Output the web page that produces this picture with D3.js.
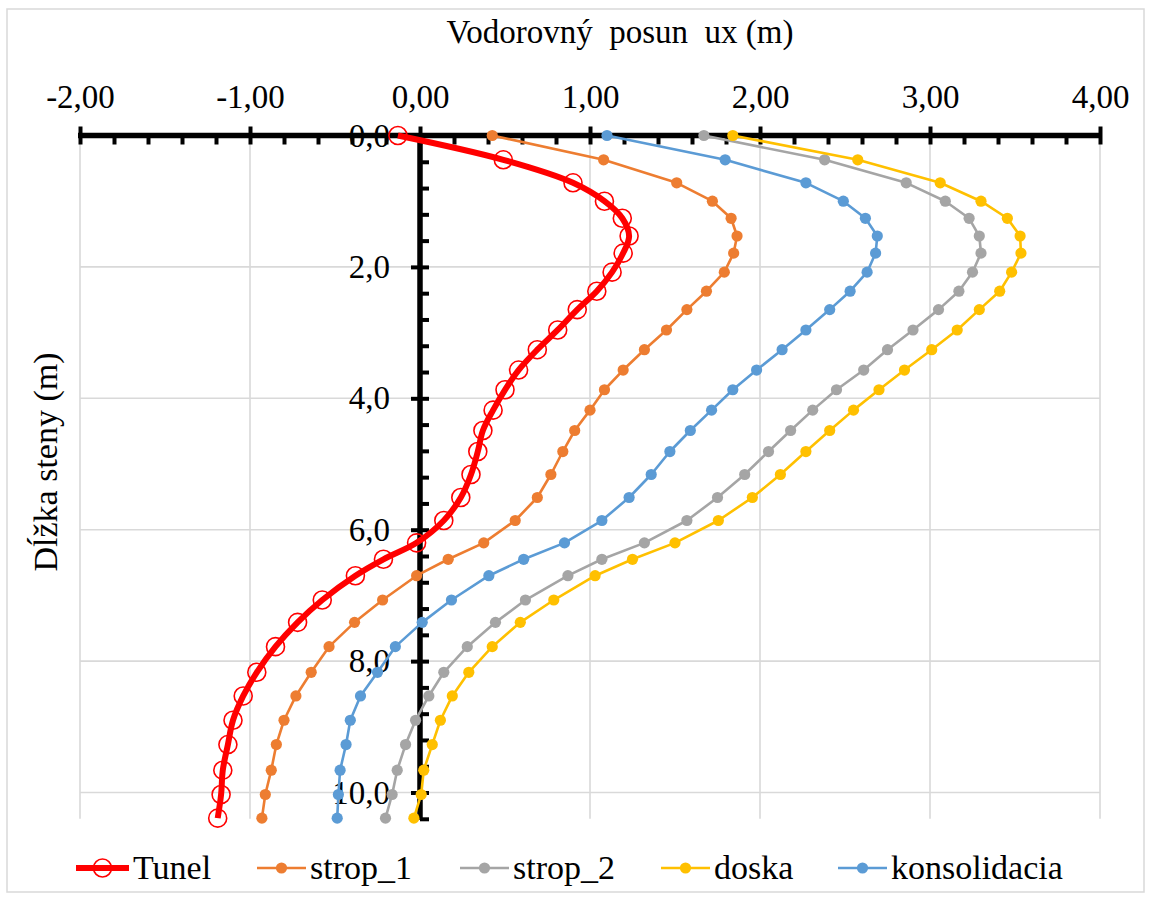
<!DOCTYPE html>
<html><head><meta charset="utf-8">
<script src="https://cdn.jsdelivr.net/npm/d3@7"></script>
<style>body{margin:0;background:#fff}</style>
</head><body><svg id="c" width="1151" height="899"></svg>
<script>
// ---- data ----
const depth = [0, 0.37, 0.72, 1.0, 1.26, 1.53, 1.79, 2.08, 2.37, 2.65, 2.96, 3.26, 3.57, 3.87, 4.18, 4.49, 4.81, 5.16, 5.51, 5.86, 6.2, 6.45, 6.7, 7.07, 7.41, 7.78, 8.17, 8.53, 8.9, 9.27, 9.66, 10.03, 10.39];
const tunel = [-0.13, 0.49, 0.90, 1.085, 1.19, 1.23, 1.195, 1.13, 1.04, 0.925, 0.81, 0.69, 0.58, 0.50, 0.43, 0.37, 0.34, 0.30, 0.24, 0.14, -0.02, -0.215, -0.38, -0.575, -0.72, -0.85, -0.96, -1.04, -1.10, -1.13, -1.16, -1.17, -1.19];
const strop1 = [0.425, 1.08, 1.51, 1.72, 1.83, 1.865, 1.845, 1.79, 1.685, 1.57, 1.45, 1.32, 1.195, 1.085, 1.00, 0.91, 0.84, 0.77, 0.69, 0.56, 0.375, 0.166, -0.02, -0.22, -0.385, -0.535, -0.64, -0.73, -0.80, -0.845, -0.875, -0.91, -0.93];
const strop2 = [1.67, 2.38, 2.86, 3.09, 3.23, 3.29, 3.30, 3.25, 3.17, 3.05, 2.90, 2.75, 2.61, 2.45, 2.31, 2.18, 2.05, 1.91, 1.75, 1.57, 1.32, 1.07, 0.87, 0.62, 0.444, 0.278, 0.14, 0.052, -0.026, -0.085, -0.134, -0.164, -0.203];
const doska = [1.84, 2.575, 3.06, 3.30, 3.455, 3.53, 3.535, 3.48, 3.41, 3.29, 3.16, 3.01, 2.85, 2.70, 2.55, 2.41, 2.27, 2.12, 1.955, 1.755, 1.50, 1.25, 1.03, 0.787, 0.59, 0.425, 0.287, 0.19, 0.12, 0.072, 0.022, 0.007, -0.036];
const konsolidacia = [1.10, 1.795, 2.27, 2.49, 2.62, 2.69, 2.68, 2.63, 2.53, 2.41, 2.27, 2.13, 1.98, 1.84, 1.715, 1.59, 1.47, 1.36, 1.23, 1.07, 0.85, 0.61, 0.405, 0.185, 0.013, -0.145, -0.25, -0.35, -0.41, -0.435, -0.47, -0.48, -0.487];
const seriesNames = ["Tunel", "strop_1", "strop_2", "doska", "konsolidacia"];
const seriesValues = [tunel, strop1, strop2, doska, konsolidacia];
const seriesColors = ["#FF0000", "#ED7D31", "#A5A5A5", "#FFC000", "#5B9BD5"];
const xTicks = [-2, -1, 0, 1, 2, 3, 4];
const yTicks = [0, 2, 4, 6, 8, 10];
const xTitle = "Vodorovný  posun  ux (m)";
const yTitle = "Dĺžka steny (m)";

// ---- setup ----
const FONT = "'Liberation Serif','Times New Roman',serif";
const FS = 33;
const svg = d3.select("#c");
const loc = d3.formatLocale({decimal: ",", thousands: " ", grouping: [3], currency: ["", ""], minus: "-"});
const fx = loc.format(".2f"), fy = loc.format(".1f");

const x = d3.scaleLinear().domain([-2, 4]).range([80, 1100]);
const y = d3.scaleLinear().domain([0, 10.4]).range([135.5, 818.8]);

svg.append("rect").attr("x", 7).attr("y", 9).attr("width", 1137).attr("height", 883)
  .attr("fill", "#fff").attr("stroke", "#d9d9d9").attr("stroke-width", 1.5);

// gridlines
const grid = svg.append("g").attr("stroke", "#d9d9d9").attr("stroke-width", 1.6);
grid.selectAll("line.v").data(xTicks.filter(d => d !== 0)).join("line")
  .attr("x1", d => x(d)).attr("x2", d => x(d)).attr("y1", y(0)).attr("y2", y(10.4));
grid.selectAll("line.h").data(yTicks.filter(d => d !== 0)).join("line").attr("class", "h")
  .attr("x1", x(-2)).attr("x2", x(4)).attr("y1", d => y(d)).attr("y2", d => y(d));

// x axis (top, at depth 0)
const xMinor = d3.range(-2, 4.0001, 0.2).map(v => +v.toFixed(2)).filter(v => Math.abs(v - Math.round(v)) > 1e-6);
const axX = svg.append("g").attr("transform", `translate(0,${y(0)})`);
axX.append("g").call(d3.axisBottom(x).tickValues(xMinor).tickSize(9).tickFormat("").tickSizeOuter(0));
axX.append("g").attr("transform", "translate(0,-9)")
  .call(d3.axisBottom(x).tickValues(xTicks).tickSize(18).tickFormat("").tickSizeOuter(0));
axX.append("g").call(d3.axisTop(x).tickValues(xTicks).tickSize(0).tickPadding(28).tickFormat(fx).tickSizeOuter(0));
axX.selectAll("path.domain").remove();
axX.selectAll("line").attr("stroke", "#000").attr("stroke-width", 4);
axX.append("line").attr("x1", x(-2) - 2).attr("x2", x(4) + 2).attr("y1", 0).attr("y2", 0)
  .attr("stroke", "#000").attr("stroke-width", 5.5);

// y axis (at ux = 0)
const yMinor = d3.range(0, 10.4001, 0.4).map(v => +v.toFixed(2)).filter(v => Math.abs(v / 2 - Math.round(v / 2)) > 1e-6);
const axY = svg.append("g").attr("transform", `translate(${x(0)},0)`);
axY.append("g").call(d3.axisRight(y).tickValues(yMinor).tickSize(9).tickFormat("").tickSizeOuter(0));
axY.append("g").attr("transform", "translate(-9,0)")
  .call(d3.axisRight(y).tickValues(yTicks.filter(d => d > 0)).tickSize(18).tickFormat("").tickSizeOuter(0));
axY.append("g").call(d3.axisLeft(y).tickValues(yTicks).tickSize(0).tickPadding(30).tickFormat(fy).tickSizeOuter(0));
axY.selectAll("path.domain").remove();
axY.selectAll("line").attr("stroke", "#000").attr("stroke-width", 4);
axY.append("line").attr("x1", 0).attr("x2", 0).attr("y1", y(0) - 2).attr("y2", y(10.4) + 1)
  .attr("stroke", "#000").attr("stroke-width", 5.5);

svg.selectAll(".tick text").attr("font-family", FONT).attr("font-size", FS).attr("fill", "#000");

// titles
svg.append("text").attr("x", 620).attr("y", 43).attr("text-anchor", "middle")
  .attr("font-family", FONT).attr("font-size", FS).attr("fill", "#000").style("white-space", "pre").text(xTitle);
svg.append("text").attr("transform", "translate(57,462) rotate(-90)").attr("text-anchor", "middle")
  .attr("font-family", FONT).attr("font-size", 34).attr("fill", "#000").text(yTitle);

// series
const plot = svg.append("g");
seriesValues.forEach((vals, i) => {
  const pts = vals.map((v, k) => [v, depth[k]]);
  const isT = i === 0;
  const line = d3.line().x(d => x(d[0])).y(d => y(d[1]));
  if (isT) line.curve(d3.curveCatmullRom.alpha(0.5));
  const g = plot.append("g");
  g.append("path").datum(pts).attr("d", line).attr("fill", "none")
    .attr("stroke", seriesColors[i]).attr("stroke-width", isT ? 6 : 2.6).attr("stroke-linejoin", "round");
  g.selectAll("circle").data(pts).join("circle")
    .attr("cx", d => x(d[0])).attr("cy", d => y(d[1]))
    .attr("r", isT ? 9 : 5.6)
    .attr("fill", isT ? "none" : seriesColors[i])
    .attr("stroke", isT ? seriesColors[i] : "none").attr("stroke-width", isT ? 1.6 : 0);
});

// legend
const legX = [76, 257, 460, 661, 838];
const leg = svg.append("g");
seriesNames.forEach((name, i) => {
  const isT = i === 0;
  const x0 = legX[i], w = isT ? 53 : 49;
  const g = leg.append("g");
  g.append("line").attr("x1", x0).attr("x2", x0 + w).attr("y1", 868).attr("y2", 868)
    .attr("stroke", seriesColors[i]).attr("stroke-width", isT ? 6 : 2.6);
  g.append("circle").attr("cx", x0 + w / 2).attr("cy", 868).attr("r", isT ? 9 : 5.6)
    .attr("fill", isT ? "none" : seriesColors[i])
    .attr("stroke", isT ? seriesColors[i] : "none").attr("stroke-width", isT ? 1.6 : 0);
  g.append("text").attr("x", x0 + w + 4).attr("y", 879)
    .attr("font-family", FONT).attr("font-size", 34).attr("fill", "#000").text(name);
});
</script></body></html>
